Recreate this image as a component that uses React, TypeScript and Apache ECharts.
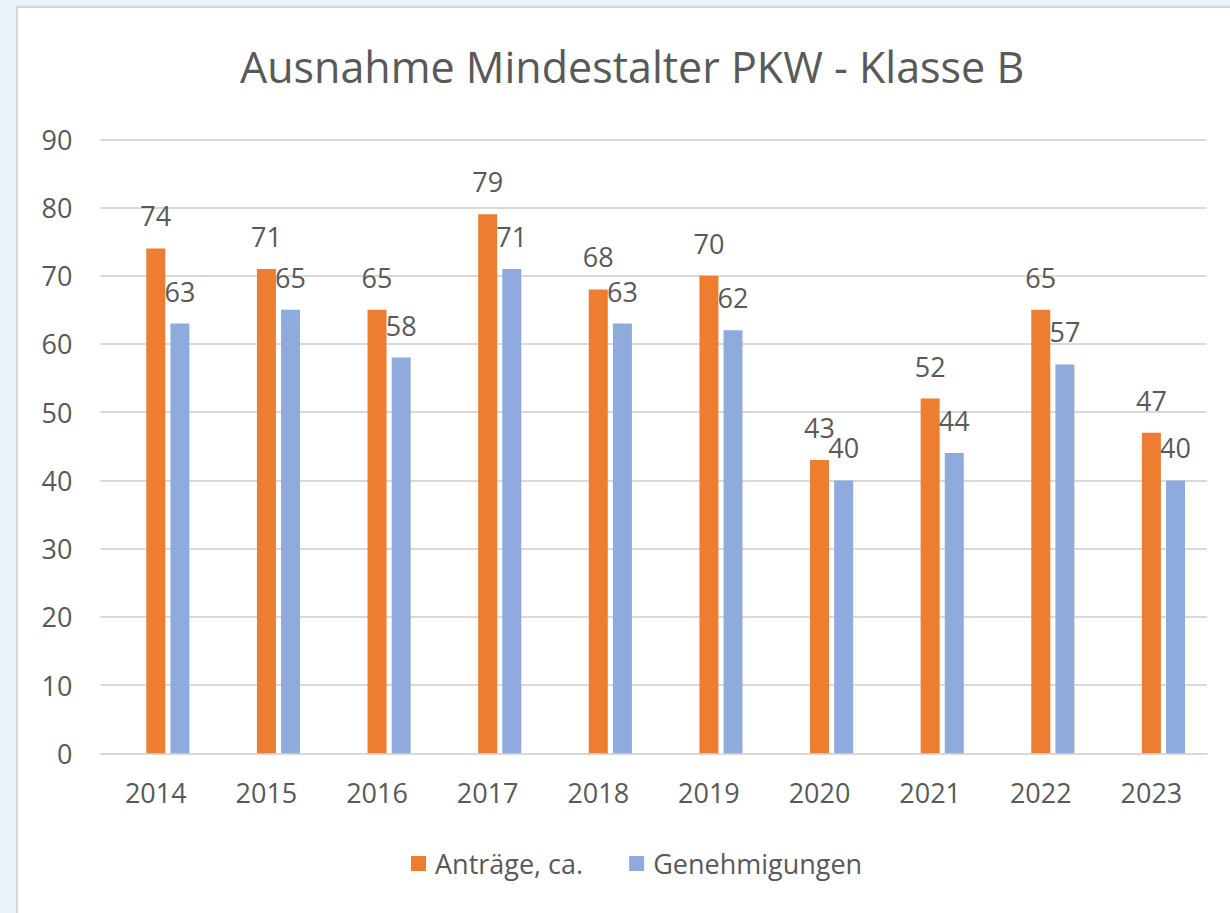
import React, { useEffect, useRef } from "react";
import * as echarts from "echarts";

const categories = ["2014", "2015", "2016", "2017", "2018", "2019", "2020", "2021", "2022", "2023"];
const antraege = [74, 71, 65, 79, 68, 70, 43, 52, 65, 47];
const genehmigungen = [63, 65, 58, 71, 63, 62, 40, 44, 57, 40];
const hiddenSeries = [null, null, null, null, null, null, null, null, null, null];
const yTicks = { min: 0, max: 90, interval: 10 };

const FONT = "Open Sans";
const TEXT = "#595959";

export default function App() {
  const ref = useRef<HTMLDivElement>(null);
  useEffect(() => {
    if (!ref.current) return;
    const chart = echarts.init(ref.current, undefined, { renderer: "svg" });
    const labelCfg = {
      show: true,
      position: "top",
      distance: 19,
      color: TEXT,
      fontFamily: FONT,
      fontSize: 27,
    };
    chart.setOption({
      animation: false,
      backgroundColor: "#EBF2FA",
      graphic: [
        {
          type: "rect",
          z: -10,
          shape: { x: 17, y: 7, width: 1300, height: 1000 },
          style: { fill: "#FFFFFF", stroke: "#D6D6D6", lineWidth: 2 },
          silent: true,
        },
      ],
      title: {
        text: "Ausnahme Mindestalter PKW - Klasse B",
        left: 235,
        top: 40,
        textStyle: { fontFamily: FONT, fontSize: 43, fontWeight: "normal", color: TEXT },
      },
      legend: {
        data: ["Anträge, ca.", "Genehmigungen"],
        bottom: 31,
        left: 406,
        itemWidth: 15,
        itemHeight: 15,
        itemGap: 46,
        icon: "rect",
        textStyle: { fontFamily: FONT, fontSize: 27, color: TEXT, padding: [0, 0, 0, 4] },
      },
      grid: { left: 100.5, right: 1230 - 1206.7, top: 139.3, bottom: 913 - 753.3, containLabel: false },
      xAxis: {
        type: "category",
        data: categories,
        axisLine: { show: true, lineStyle: { color: "#D9D9D9", width: 2 } },
        axisTick: { show: false },
        axisLabel: { color: TEXT, fontFamily: FONT, fontSize: 27, margin: 26 },
      },
      yAxis: {
        type: "value",
        min: yTicks.min,
        max: yTicks.max,
        interval: yTicks.interval,
        axisLine: { show: false },
        axisTick: { show: false },
        axisLabel: { color: TEXT, fontFamily: FONT, fontSize: 27, margin: 28 },
        splitLine: { lineStyle: { color: "#D9D9D9", width: 2 } },
      },
      series: [
        { name: "", type: "bar", data: hiddenSeries, barWidth: 19, barGap: "27%", barCategoryGap: "39%" },
        {
          name: "Anträge, ca.",
          type: "bar",
          data: antraege,
          barWidth: 19,
          barGap: "27%",
          itemStyle: { color: "#ED7D31" },
          label: labelCfg,
        },
        {
          name: "Genehmigungen",
          type: "bar",
          data: genehmigungen,
          barWidth: 19,
          barGap: "27%",
          itemStyle: { color: "#8FAADC" },
          label: labelCfg,
        },
      ],
    });
    return () => chart.dispose();
  }, []);
  return (
    <div
      ref={ref}
      style={{ position: "absolute", left: 0, top: 0, width: 1230, height: 913 }}
    />
  );
}
